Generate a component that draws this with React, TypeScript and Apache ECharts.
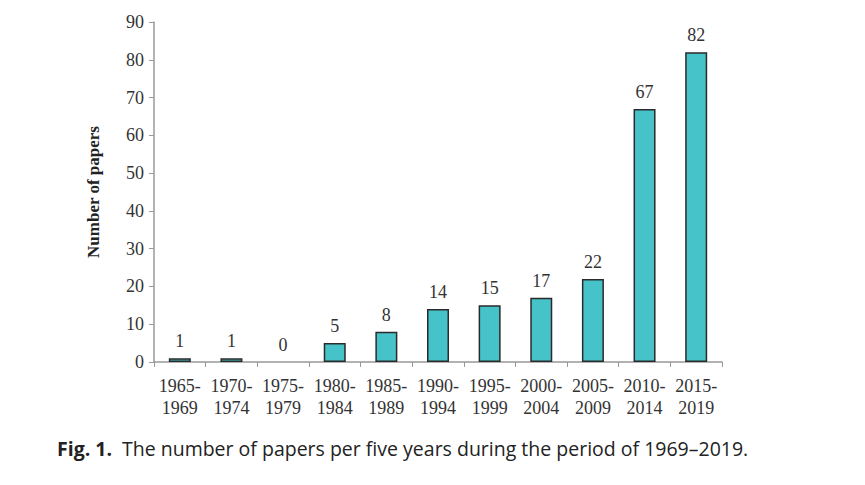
import React, { useEffect, useRef } from "react";
import * as echarts from "echarts";

const categories = [
  "1965-\n1969", "1970-\n1974", "1975-\n1979", "1980-\n1984", "1985-\n1989",
  "1990-\n1994", "1995-\n1999", "2000-\n2004", "2005-\n2009", "2010-\n2014", "2015-\n2019",
];
const papers = [1, 1, 0, 5, 8, 14, 15, 17, 22, 67, 82];
const yMin = 0;
const yMax = 90;
const yInterval = 10;
const yAxisTitle = "Number of papers";
const captionBold = "Fig. 1.";
const captionText = "The number of papers per five years during the period of 1969–2019.";

export default function App() {
  const ref = useRef<HTMLDivElement>(null);
  useEffect(() => {
    if (!ref.current) return;
    const chart = echarts.init(ref.current, undefined, { renderer: "svg" });
    const serif = "'Liberation Serif', 'DejaVu Serif', serif";
    const sans = "'Open Sans', 'Noto Sans', sans-serif";
    chart.setOption({
      animation: false,
      backgroundColor: "#ffffff",
      grid: { left: 154, right: 143, top: 22, bottom: 123, containLabel: false },
      title: {
        text: `{b|${captionBold}}  {n|${captionText}}`,
        left: 57,
        top: 438,
        padding: 0,
        textStyle: {
          rich: {
            b: { fontFamily: sans, fontWeight: "bold", fontSize: 19.5, color: "#222" },
            n: { fontFamily: sans, fontWeight: "normal", fontSize: 19.5, color: "#222" },
          },
        },
      },
      xAxis: {
        type: "category",
        data: categories,
        axisLine: { lineStyle: { color: "#999", width: 1.5 } },
        axisTick: { show: true, alignWithLabel: false, length: 5, lineStyle: { color: "#999" } },
        axisLabel: { fontFamily: serif, fontSize: 18, color: "#333", margin: 13, lineHeight: 22, interval: 0 },
      },
      yAxis: {
        type: "value",
        min: yMin,
        max: yMax,
        interval: yInterval,
        name: yAxisTitle,
        nameLocation: "middle",
        nameGap: 52,
        nameTextStyle: { fontFamily: serif, fontSize: 17, fontWeight: "bold", color: "#222" },
        axisLine: { show: true, lineStyle: { color: "#999", width: 1.5 } },
        axisTick: { show: true, length: 5, lineStyle: { color: "#999" } },
        axisLabel: { fontFamily: serif, fontSize: 18, color: "#333", margin: 10 },
        splitLine: { show: false },
      },
      series: [
        {
          type: "bar",
          data: papers.map((v) => (v === 0 ? { value: v, itemStyle: { borderWidth: 0 } } : v)),
          barWidth: 22,
          itemStyle: { color: "#45c3c8", borderColor: "#2a2a2a", borderWidth: 1.5 },
          label: {
            show: true,
            position: "top",
            distance: 8,
            fontFamily: serif,
            fontSize: 18,
            color: "#333",
          },
        },
      ],
    });
    return () => chart.dispose();
  }, []);
  return (
    <div
      ref={ref}
      style={{ position: "absolute", left: 0, top: 0, width: 865, height: 485 }}
    />
  );
}
